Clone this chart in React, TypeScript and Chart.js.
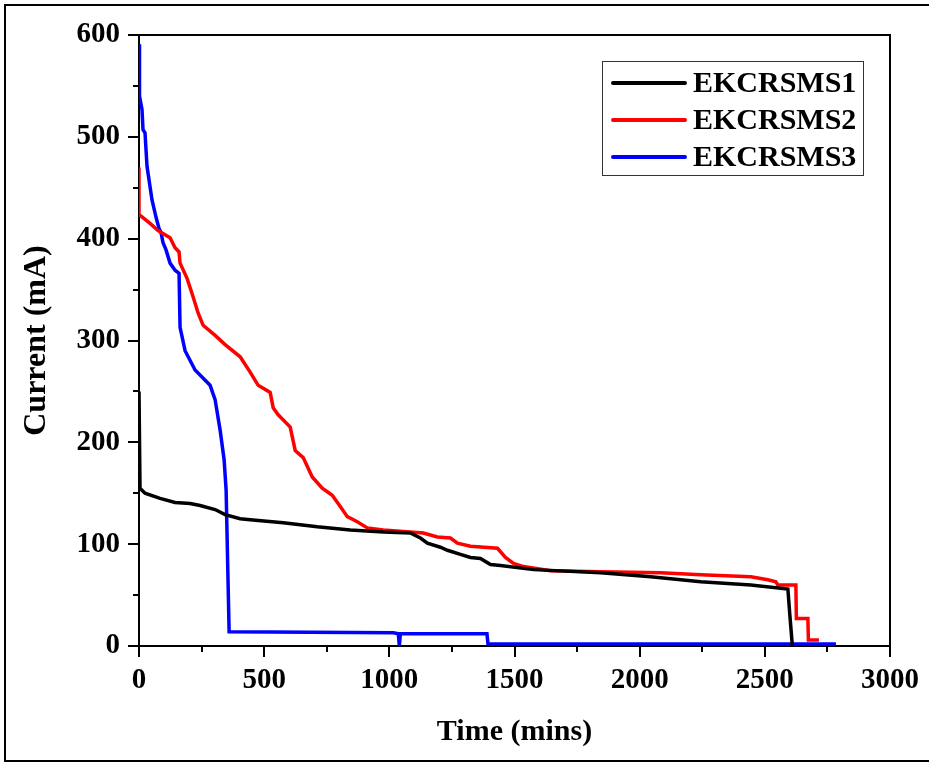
import React, { useEffect, useRef } from 'react';
import { Chart, registerables } from 'chart.js';

Chart.register(...registerables);

const seriesNames = ['EKCRSMS1', 'EKCRSMS2', 'EKCRSMS3'];
const seriesColors = ['#000000', '#ff0000', '#0000ff'];

const s1Time = [0, 4, 24, 84, 144, 204, 244, 304, 344, 404, 444, 576, 712, 844, 976, 1084, 1124, 1152, 1204, 1232, 1284, 1324, 1364, 1404, 1444, 1576, 1844, 2044, 2244, 2444, 2592, 2600, 2610];
const s1Current = [250, 155, 150, 145, 141, 140, 138, 134, 129, 125, 124, 121, 117, 114, 112, 111, 106, 101, 97, 94, 90, 87, 86, 80, 79, 75, 72, 68, 63, 60, 56, 30, 0];

const s2Time = [0, 0, 4, 44, 76, 124, 144, 160, 164, 192, 216, 236, 256, 304, 344, 404, 444, 476, 524, 536, 556, 604, 624, 656, 692, 732, 772, 804, 832, 872, 912, 976, 1084, 1136, 1192, 1244, 1272, 1324, 1432, 1464, 1496, 1536, 1644, 1844, 2084, 2244, 2444, 2512, 2544, 2552, 2624, 2626, 2672, 2674, 2716];
const s2Current = [470, 423, 423, 415, 408, 401, 391, 387, 376, 361, 343, 327, 315, 305, 296, 284, 269, 256, 249, 234, 227, 215, 192, 185, 166, 155, 148, 137, 127, 122, 116, 114, 112, 111, 107, 106, 101, 98, 96, 87, 81, 78, 74, 73, 72, 70, 68, 65, 63, 60, 60, 27, 27, 6, 6];

const s3Time = [0, 2, 12, 16, 24, 32, 52, 68, 80, 88, 96, 108, 124, 144, 160, 164, 184, 224, 284, 304, 324, 340, 348, 356, 360, 1016, 1036, 1040, 1044, 1390, 1394, 2784];
const s3Current = [591, 540, 527, 507, 504, 471, 438, 421, 410, 406, 396, 389, 376, 369, 366, 313, 290, 271, 256, 242, 212, 183, 153, 60, 14, 13, 12, 0, 12, 12, 2, 2];

const xMin = 0;
const xMax = 3000;
const xStep = 250;
const xLabelStep = 500;
const yMin = 0;
const yMax = 600;
const yStep = 50;
const yLabelStep = 100;

const xTitle = 'Time (mins)';
const yTitle = 'Current (mA)';

const FONT = '"Liberation Serif", "Times New Roman", Times, serif';

const toPoints = (t: number[], c: number[]) => t.map((x, i) => ({ x, y: c[i] }));

const decorPlugin = {
  id: 'decor',
  beforeDraw(chart: any) {
    const ctx = chart.ctx;
    ctx.save();
    ctx.fillStyle = '#ffffff';
    ctx.fillRect(0, 0, chart.width, chart.height);
    ctx.strokeStyle = '#000000';
    ctx.lineWidth = 2;
    ctx.beginPath();
    ctx.moveTo(chart.width + 5, 5);
    ctx.lineTo(5, 5);
    ctx.lineTo(5, chart.height - 4);
    ctx.lineTo(chart.width + 5, chart.height - 4);
    ctx.stroke();
    ctx.restore();
  },
  beforeDatasetsDraw(chart: any) {
    const { ctx, chartArea: a, scales } = chart;
    ctx.save();
    ctx.strokeStyle = '#000000';
    ctx.lineWidth = 2;
    ctx.strokeRect(a.left, a.top, a.right - a.left, a.bottom - a.top);
    const xs = scales.x;
    xs.ticks.forEach((t: any) => {
      const px = Math.round(xs.getPixelForValue(t.value));
      const len = t.value % xLabelStep === 0 ? 11 : 6;
      ctx.beginPath();
      ctx.moveTo(px, a.bottom);
      ctx.lineTo(px, a.bottom + len);
      ctx.stroke();
    });
    const ys = scales.y;
    ys.ticks.forEach((t: any) => {
      const py = Math.round(ys.getPixelForValue(t.value));
      const len = t.value % yLabelStep === 0 ? 11 : 6;
      ctx.beginPath();
      ctx.moveTo(a.left, py);
      ctx.lineTo(a.left - len, py);
      ctx.stroke();
    });
    ctx.restore();
  },
  afterDraw(chart: any) {
    const ctx = chart.ctx;
    ctx.save();
    const bx = 602, by = 61, bw = 261, bh = 114;
    ctx.fillStyle = '#ffffff';
    ctx.fillRect(bx, by, bw, bh);
    ctx.strokeStyle = '#333333';
    ctx.lineWidth = 1;
    ctx.strokeRect(bx + 0.5, by + 0.5, bw, bh);
    ctx.font = `bold 30px ${FONT}`;
    ctx.textBaseline = 'middle';
    ctx.textAlign = 'left';
    chart.data.datasets.forEach((ds: any, i: number) => {
      const y = 83 + i * 37;
      ctx.strokeStyle = ds.borderColor;
      ctx.lineWidth = 4;
      ctx.lineCap = 'round';
      ctx.beginPath();
      ctx.moveTo(613, y);
      ctx.lineTo(685, y);
      ctx.stroke();
      ctx.fillStyle = '#000000';
      ctx.fillText(ds.label, 693, y + 1);
    });
    ctx.restore();
  },
};

export default function App() {
  const ref = useRef<HTMLCanvasElement>(null);
  useEffect(() => {
    document.body.style.margin = '0';
    if (!ref.current) return;
    const series = [toPoints(s1Time, s1Current), toPoints(s2Time, s2Current), toPoints(s3Time, s3Current)];
    const chart = new Chart(ref.current, {
      type: 'line',
      data: {
        datasets: series.map((d, i) => ({
          label: seriesNames[i],
          data: d,
          borderColor: seriesColors[i],
          backgroundColor: seriesColors[i],
          borderWidth: 3.5,
          pointRadius: 0,
          tension: 0,
          fill: false,
        })),
      },
      options: {
        animation: false,
        responsive: false,
        devicePixelRatio: 1,
        layout: { padding: { left: 0, top: 35, right: 39, bottom: 0 } },
        plugins: { legend: { display: false }, tooltip: { enabled: false } },
        scales: {
          x: {
            type: 'linear',
            min: xMin,
            max: xMax,
            grid: { display: false, drawTicks: false },
            border: { display: false },
            ticks: {
              stepSize: xStep,
              autoSkip: false,
              maxRotation: 0,
              padding: 17,
              color: '#000',
              font: { family: FONT, size: 29, weight: 'bold' },
              callback: (v: any) => (Number(v) % xLabelStep === 0 ? String(v) : ''),
            },
            title: {
              display: true,
              text: xTitle,
              color: '#000',
              font: { family: FONT, size: 30, weight: 'bold' },
              padding: { top: 0, bottom: 15 },
            },
            afterFit: (s: any) => {
              s.height = 119;
              s.paddingLeft = 0;
              s.paddingRight = 0;
            },
          },
          y: {
            type: 'linear',
            min: yMin,
            max: yMax,
            grid: { display: false, drawTicks: false },
            border: { display: false },
            ticks: {
              stepSize: yStep,
              autoSkip: false,
              padding: 19,
              color: '#000',
              font: { family: FONT, size: 29, weight: 'bold' },
              callback: (v: any) => (Number(v) % yLabelStep === 0 ? String(v) : ''),
            },
            title: {
              display: true,
              text: yTitle,
              color: '#000',
              font: { family: FONT, size: 32, weight: 'bold' },
              padding: { top: 18, bottom: 0 },
            },
            afterFit: (s: any) => {
              s.width = 139;
              s.paddingTop = 0;
              s.paddingBottom = 0;
            },
          },
        },
      },
      plugins: [decorPlugin],
    } as any);
    return () => chart.destroy();
  }, []);
  return <canvas ref={ref} width={929} height={765} style={{ display: 'block' }} />;
}
